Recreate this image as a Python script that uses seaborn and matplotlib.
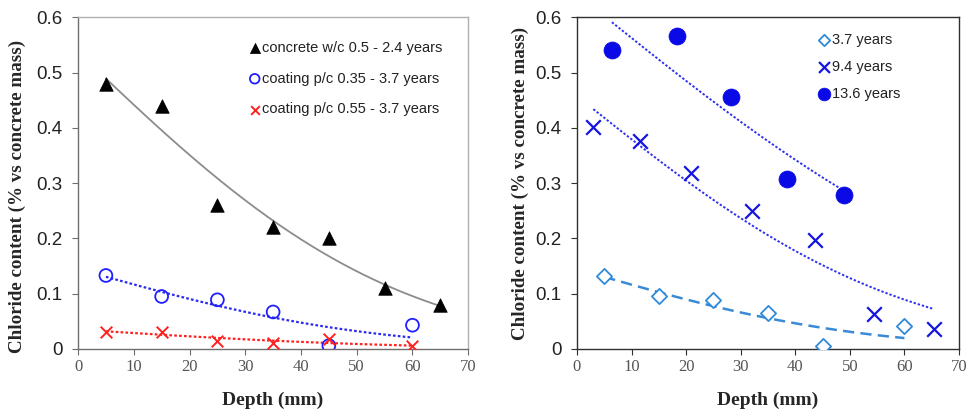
import math
import numpy as np
import pandas as pd
import matplotlib
matplotlib.use("Agg")
import matplotlib.pyplot as plt
import seaborn as sns

# ---- Left panel: concrete vs coated specimens ----
depth_concrete = [5, 15, 25, 35, 45, 55, 65]
cl_concrete = [0.48, 0.44, 0.26, 0.22, 0.20, 0.11, 0.08]

depth_coat = [5, 15, 25, 35, 45, 60]
cl_coat_035 = [0.133, 0.095, 0.089, 0.067, 0.006, 0.043]
cl_coat_055 = [0.031, 0.031, 0.015, 0.010, 0.018, 0.005]

# ---- Right panel: exposure time series ----
depth_37 = [5, 15, 25, 35, 45, 60]
cl_37 = [0.132, 0.095, 0.089, 0.065, 0.005, 0.042]

depth_94 = [3.0, 11.6, 20.9, 32.1, 43.6, 54.4, 65.4]
cl_94 = [0.402, 0.376, 0.319, 0.250, 0.197, 0.064, 0.036]

depth_136 = [6.4, 18.3, 28.2, 38.4, 49.0]
cl_136 = [0.541, 0.567, 0.455, 0.308, 0.279]

y_ticks = [0, 0.1, 0.2, 0.3, 0.4, 0.5, 0.6]
x_ticks = [0, 10, 20, 30, 40, 50, 60, 70]

_erfc = np.vectorize(math.erfc)


def erfc_profile(x, y, n=200):
    """Least-squares fit of C(x) = Cs * erfc(x / L) (Fick's 2nd law)."""
    x = np.asarray(x, float)
    y = np.asarray(y, float)
    best = None
    for L in np.arange(5.0, 400.0, 0.25):
        f = _erfc(x / L)
        cs = (f * y).sum() / (f * f).sum()
        sse = ((y - cs * f) ** 2).sum()
        if best is None or sse < best[0]:
            best = (sse, cs, L)
    _, cs, L = best
    xs = np.linspace(x.min(), x.max(), n)
    return pd.DataFrame({"x": xs, "y": cs * _erfc(xs / L)})


sns.set_theme(style="white")
plt.rcParams["font.family"] = ["Liberation Sans", "DejaVu Sans"]

fig = plt.figure(figsize=(9.73, 4.13), dpi=100)
ax1 = fig.add_axes([0.0802, 0.155, 0.401, 0.803])
ax2 = fig.add_axes([0.593, 0.155, 0.3926, 0.803])

# --- left panel ---
for xs, ys, color, ls, lw in [
    (depth_concrete, cl_concrete, "#8c8c8c", "-", 1.3),
    (depth_coat, cl_coat_035, "#2a2af0", (0, (1.2, 1.0)), 1.6),
    (depth_coat, cl_coat_055, "#ff2020", (0, (1.2, 1.0)), 1.6),
]:
    fit = erfc_profile(xs, ys)
    sns.lineplot(data=fit, x="x", y="y", ax=ax1, color=color,
                 linestyle=ls, linewidth=lw, legend=False)

sns.scatterplot(x=depth_concrete, y=cl_concrete, ax=ax1, marker="^",
                s=95, color="black", edgecolor="black", linewidth=0.5,
                label="concrete w/c 0.5 - 2.4 years", zorder=3)
sns.scatterplot(x=depth_coat, y=cl_coat_035, ax=ax1, marker="o",
                s=85, facecolors="none", edgecolor="#2020ff", linewidth=1.3,
                label="coating p/c 0.35 - 3.7 years", zorder=3)
sns.scatterplot(x=depth_coat, y=cl_coat_055, ax=ax1, marker="x",
                s=70, color="#ff2020", linewidth=1.4,
                label="coating p/c 0.55 - 3.7 years", zorder=3)

# --- right panel ---
fit = erfc_profile(depth_37, cl_37)
sns.lineplot(data=fit, x="x", y="y", ax=ax2, color="#3a8ad6",
             linestyle=(0, (4.5, 2.5)), linewidth=1.8, legend=False)
fit = erfc_profile(depth_94, cl_94)
sns.lineplot(data=fit, x="x", y="y", ax=ax2, color="#3030f0",
             linestyle=(0, (1.2, 1.0)), linewidth=1.4, legend=False)
fit = erfc_profile(depth_136, cl_136)
sns.lineplot(data=fit, x="x", y="y", ax=ax2, color="#3030f0",
             linestyle=(0, (1.2, 1.0)), linewidth=1.4, legend=False)

sns.scatterplot(x=depth_37, y=cl_37, ax=ax2, marker="D", s=60,
                facecolors="white", edgecolor="#2f8ad8", linewidth=1.3,
                label="3.7 years", zorder=3)
sns.scatterplot(x=depth_94, y=cl_94, ax=ax2, marker="x", s=110,
                color="#1515e0", linewidth=1.6, label="9.4 years", zorder=3)
sns.scatterplot(x=depth_136, y=cl_136, ax=ax2, marker="o", s=150,
                color="#0a0ae6", edgecolor="#0a0ae6", linewidth=0.5,
                label="13.6 years", zorder=3)

for ax, spine_col in [(ax1, "#6e6e6e"), (ax2, "#303030")]:
    ax.set_xlim(0, 70)
    ax.set_ylim(0, 0.6)
    ax.set_xticks(x_ticks)
    ax.set_yticks(y_ticks)
    ax.set_xticklabels([str(t) for t in x_ticks], family="Liberation Serif",
                       fontsize=12, color="#555555")
    ax.set_yticklabels([f"{t:g}" for t in y_ticks], family="Liberation Sans",
                       fontsize=13.5, color="#222222")
    ax.tick_params(axis="both", direction="out", length=4, width=0.8,
                   color=spine_col, bottom=True, left=True, pad=3)
    ax.tick_params(axis="y", pad=7)
    for sp in ax.spines.values():
        sp.set_color(spine_col)
        sp.set_linewidth(1.0)
    ax.set_xlabel("Depth (mm)", family="Liberation Serif", fontweight="bold",
                  fontsize=14, labelpad=12)
    ax.set_ylabel("Chloride content (% vs concrete mass)",
                  family="Liberation Serif", fontweight="bold", fontsize=13.7,
                  labelpad=5)
    ax.grid(False)

ax1.yaxis.set_label_coords(-0.133, 0.46)
ax1.spines["top"].set_color("#b0b0b0")
ax1.spines["right"].set_color("#b0b0b0")

leg1 = ax1.legend(loc="upper right", bbox_to_anchor=(0.96, 0.96),
                  frameon=False, fontsize=10.5, handletextpad=0.0,
                  handlelength=1.0, labelspacing=1.15, markerscale=0.75,
                  borderaxespad=0.3)
leg2 = ax2.legend(loc="upper left", bbox_to_anchor=(0.594, 0.993),
                  frameon=False, fontsize=10.5, handletextpad=0.0,
                  handlelength=1.0, labelspacing=0.9, markerscale=0.75)
for leg in (leg1, leg2):
    for t in leg.get_texts():
        t.set_color("#222222")

fig.savefig("out.png", dpi=100)
